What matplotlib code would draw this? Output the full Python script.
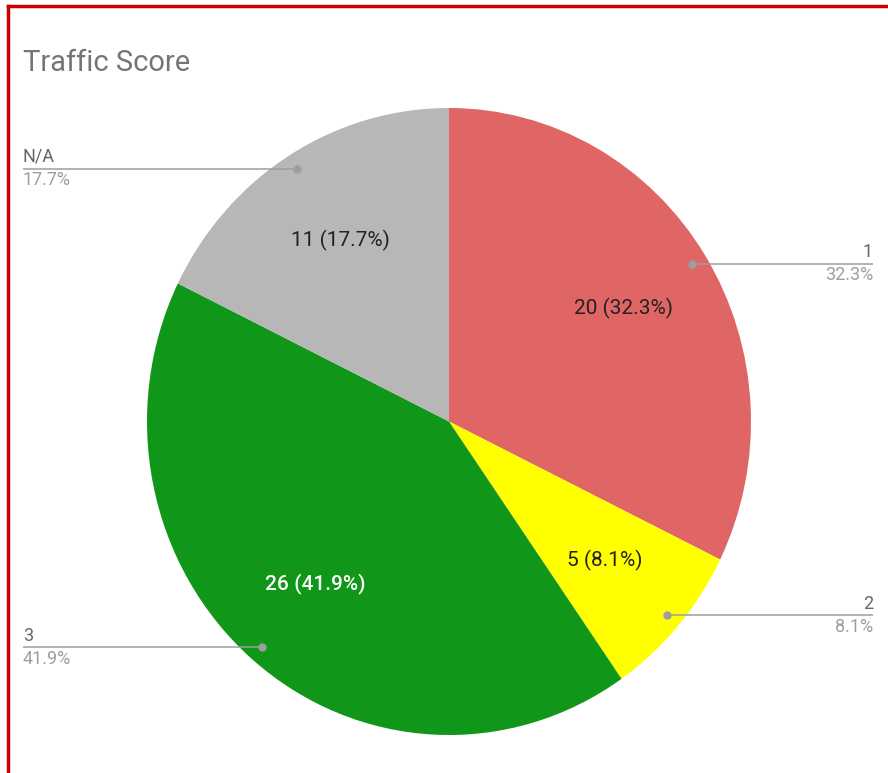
import matplotlib
matplotlib.use("Agg")
import matplotlib.pyplot as plt
import numpy as np

plt.rcParams['font.family'] = ['Roboto', 'DejaVu Sans']

categories = ["1", "2", "3", "N/A"]
values = [20, 5, 26, 11]
colors = ["#e06666", "#ffff00", "#109618", "#b7b7b7"]
inner_text_colors = ["#222222", "#222222", "#ffffff", "#222222"]
inner_text_weights = ["normal", "normal", "medium", "normal"]
title = "Traffic Score"

W, H = 888, 773
fig = plt.figure(figsize=(W / 100, H / 100), dpi=100)

# pie bounding box in pixels
px_l, px_r, px_t, px_b = 147, 751, 108, 735
ax = fig.add_axes([px_l / W, (H - px_b) / H, (px_r - px_l) / W, (px_b - px_t) / H])
ax.axis('off')

total = sum(values)

def fmt(pct):
    v = int(round(pct * total / 100.0))
    return f"{v} ({pct:.1f}%)"

wedges, texts, autotexts = ax.pie(
    values, colors=colors, startangle=90, counterclock=False,
    autopct=fmt, pctdistance=0.68, radius=1.0,
    wedgeprops=dict(linewidth=0), textprops=dict(fontsize=15))
ax.set_xlim(-1, 1)
ax.set_ylim(-1, 1)
ax.set_aspect('auto')
for t, c, fw in zip(autotexts, inner_text_colors, inner_text_weights):
    t.set_color(c)
    t.set_fontsize(15)
    t.set_fontweight(fw)

cx_px = (px_l + px_r) / 2
half_w = (px_r - px_l) / 2
left_edge = (23 - cx_px) / half_w
right_edge = (873 - cx_px) / half_w

for w, name, v in zip(wedges, categories, values):
    ang = np.deg2rad((w.theta1 + w.theta2) / 2)
    x, y = 0.95 * np.cos(ang), 0.95 * np.sin(ang)
    pct = 100.0 * v / total
    if x >= 0:
        x_end, ha = right_edge, 'right'
    else:
        x_end, ha = left_edge, 'left'
    ax.plot([x, x_end], [y, y], color="#9e9e9e", lw=1.1, clip_on=False,
            solid_capstyle='butt')
    ax.plot([x], [y], 'o', color="#9e9e9e", ms=5, clip_on=False)
    ax.annotate(name, (x_end, y), xytext=(0, 2), textcoords='offset points',
                ha=ha, va='bottom', fontsize=13, color="#666666",
                annotation_clip=False)
    ax.annotate(f"{pct:.1f}%", (x_end, y), xytext=(0, -1.5), textcoords='offset points',
                ha=ha, va='top', fontsize=13, color="#9e9e9e",
                annotation_clip=False)

fig.text(23 / W, 1 - 63 / H, title, fontsize=21, color="#757575",
         ha='left', va='center')

# red border on top and left
fig.add_artist(plt.Line2D([8 / W, 1], [1 - 6 / H, 1 - 6 / H], color="#cc0000", lw=2.5,
                          transform=fig.transFigure))
fig.add_artist(plt.Line2D([8 / W, 8 / W], [0, 1 - 6 / H], color="#cc0000", lw=2.5,
                          transform=fig.transFigure))

fig.savefig("out.png", dpi=100, facecolor="white")
